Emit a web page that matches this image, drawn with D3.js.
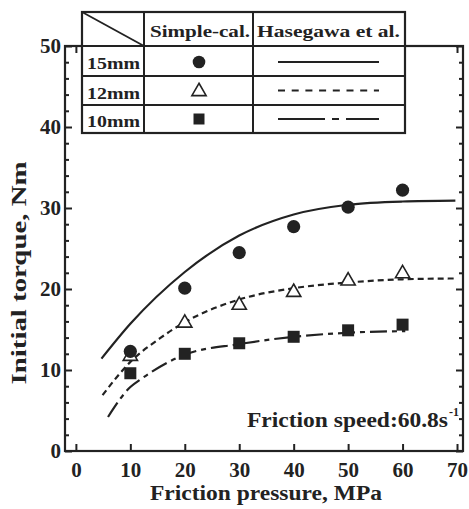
<!DOCTYPE html>
<html>
<head>
<meta charset="utf-8">
<script src="https://cdn.jsdelivr.net/npm/d3@7"></script>
<style>
  body { margin: 0; background: #fff; }
  text { font-family: "Liberation Serif", "Times New Roman", serif; font-weight: bold; fill: #222; }
</style>
</head>
<body>
<div id="chart"></div>
<script>
// measured points (Simple-cal.)
var pressure = [10, 20, 30, 40, 50, 60];
var simple15 = [12.3, 20.1, 24.5, 27.7, 30.1, 32.2];
var simple12 = [11.7, 15.8, 18.0, 19.6, 21.0, 21.9];
var simple10 = [9.6, 12.0, 13.3, 14.1, 14.9, 15.6];

// Hasegawa et al. curves
var hasX15 = [4.7, 10, 20, 30, 40, 50, 60, 69.7];
var hasY15 = [11.4, 15.7, 22.1, 26.6, 29.2, 30.4, 30.8, 30.9];
var hasX12 = [4.9, 10, 15.4, 20, 30, 40, 50, 60, 69.7];
var hasY12 = [6.9, 11.0, 13.9, 15.9, 18.7, 20.1, 20.8, 21.2, 21.3];
var hasX10 = [5.9, 10, 12, 20, 30, 40, 50, 60.5];
var hasY10 = [4.2, 7.9, 8.9, 11.9, 13.2, 14.1, 14.6, 14.8];

var xTicks = [0, 10, 20, 30, 40, 50, 60, 70];
var yTicks = [0, 10, 20, 30, 40, 50];
var rowLabels = ["15mm", "12mm", "10mm"];
var colLabels = ["Simple-cal.", "Hasegawa et al."];

var width = 469, height = 509;
var svg = d3.select("#chart").append("svg")
  .attr("width", width).attr("height", height);

var x = d3.scaleLinear().domain([-2, 71.1]).range([65, 463]);
var y = d3.scaleLinear().domain([0, 50]).range([451, 46]);

function minor(ax) { return ax.tickSizeInner(-4).tickSizeOuter(0).tickFormat(""); }

// minor y ticks every 2
var minorVals = d3.range(0, 51, 2).filter(function (v) { return v % 10 != 0; });
svg.append("g").attr("transform", "translate(65,0)")
  .call(minor(d3.axisLeft(y).tickValues(minorVals)));
svg.append("g").attr("transform", "translate(463,0)")
  .call(minor(d3.axisRight(y).tickValues(minorVals)));

var yAxisL = svg.append("g").attr("transform", "translate(65,0)")
  .call(d3.axisLeft(y).tickValues(yTicks).tickSizeInner(-7).tickSizeOuter(0).tickPadding(4));
svg.append("g").attr("transform", "translate(463,0)")
  .call(d3.axisRight(y).tickValues(yTicks).tickSizeInner(-7).tickSizeOuter(0).tickFormat(""));
var xAxisB = svg.append("g").attr("transform", "translate(0,451)")
  .call(d3.axisBottom(x).tickValues(xTicks).tickSizeInner(-7).tickSizeOuter(0).tickPadding(11));
svg.append("g").attr("transform", "translate(0,46)")
  .call(d3.axisTop(x).tickValues(xTicks).tickSizeInner(-7).tickSizeOuter(0).tickFormat(""));

svg.selectAll(".domain").remove();
svg.selectAll(".tick line").attr("stroke", "#222").attr("stroke-width", 2);
[yAxisL, xAxisB].forEach(function (g) {
  g.selectAll("text").attr("font-size", 21).attr("font-family", "Liberation Serif")
    .attr("font-weight", "bold").attr("fill", "#222");
});

// frame
svg.append("rect").attr("x", 65).attr("y", 46).attr("width", 398).attr("height", 405)
  .attr("fill", "none").attr("stroke", "#222").attr("stroke-width", 2.2);

// curves
var line = d3.line().x(function (d) { return x(d[0]); }).y(function (d) { return y(d[1]); })
  .curve(d3.curveMonotoneX);
var curves = [
  { xs: hasX15, ys: hasY15, dash: null },
  { xs: hasX12, ys: hasY12, dash: "6,4" },
  { xs: hasX10, ys: hasY10, dash: "17,5,5,5" }
];
curves.forEach(function (c) {
  var pts = c.xs.map(function (v, i) { return [v, c.ys[i]]; });
  svg.append("path").datum(pts).attr("d", line)
    .attr("fill", "none").attr("stroke", "#222").attr("stroke-width", 2.2)
    .attr("stroke-dasharray", c.dash);
});

// markers
var sq = d3.symbol().type(d3.symbolSquare).size(144);
var tri = d3.symbol().type(d3.symbolTriangle).size(88);
svg.selectAll(".sq").data(simple10).enter().append("path")
  .attr("d", sq).attr("fill", "#222")
  .attr("transform", function (d, i) { return "translate(" + x(pressure[i]) + "," + y(d) + ")"; });
svg.selectAll(".tri").data(simple12).enter().append("path")
  .attr("d", tri).attr("fill", "#fff").attr("stroke", "#222").attr("stroke-width", 1.6)
  .attr("transform", function (d, i) { return "translate(" + x(pressure[i]) + "," + y(d) + ")"; });
svg.selectAll(".circ").data(simple15).enter().append("circle")
  .attr("r", 6.6).attr("fill", "#222")
  .attr("cx", function (d, i) { return x(pressure[i]); })
  .attr("cy", function (d) { return y(d); });

// axis titles
svg.append("text").attr("x", 266).attr("y", 500).attr("text-anchor", "middle")
  .attr("font-size", 20).attr("textLength", 232).attr("lengthAdjust", "spacingAndGlyphs")
  .text("Friction pressure, MPa");
svg.append("text").attr("transform", "translate(26,273) rotate(-90)").attr("text-anchor", "middle")
  .attr("font-size", 20).attr("textLength", 223).attr("lengthAdjust", "spacingAndGlyphs")
  .text("Initial torque, Nm");
svg.append("text").attr("x", 247).attr("y", 427)
  .attr("font-size", 20).attr("textLength", 201).attr("lengthAdjust", "spacingAndGlyphs")
  .text("Friction speed:60.8s");
svg.append("text").attr("x", 449).attr("y", 416).attr("font-size", 12).text("-1");

// legend table
var colX = [82, 144, 253, 405];
var rowY = [12, 46, 76, 105, 133];
var leg = svg.append("g");
leg.append("rect").attr("x", colX[0]).attr("y", rowY[0])
  .attr("width", colX[3] - colX[0]).attr("height", rowY[4] - rowY[0])
  .attr("fill", "#fff").attr("stroke", "#222").attr("stroke-width", 2.2);
rowY.slice(1, 4).forEach(function (v) {
  leg.append("line").attr("x1", colX[0]).attr("x2", colX[3]).attr("y1", v).attr("y2", v)
    .attr("stroke", "#222").attr("stroke-width", 2);
});
colX.slice(1, 3).forEach(function (v) {
  leg.append("line").attr("x1", v).attr("x2", v).attr("y1", rowY[0]).attr("y2", rowY[4])
    .attr("stroke", "#222").attr("stroke-width", 2);
});
leg.append("line").attr("x1", colX[0]).attr("y1", rowY[0]).attr("x2", colX[1]).attr("y2", rowY[1])
  .attr("stroke", "#222").attr("stroke-width", 1.8);

var colText = [{ x: 150, w: 100 }, { x: 257, w: 143 }];
colLabels.forEach(function (t, i) {
  leg.append("text").attr("x", colText[i].x).attr("y", 37).attr("font-size", 17.5)
    .attr("textLength", colText[i].w).attr("lengthAdjust", "spacingAndGlyphs").text(t);
});
var rowBase = [69, 98.5, 127];
var rowMid = [62, 90.5, 119];
rowLabels.forEach(function (t, i) {
  leg.append("text").attr("x", 87).attr("y", rowBase[i]).attr("font-size", 17.5)
    .attr("textLength", 53).attr("lengthAdjust", "spacingAndGlyphs").text(t);
});
leg.append("circle").attr("cx", 199).attr("cy", rowMid[0]).attr("r", 6.3).attr("fill", "#222");
leg.append("path").attr("d", tri).attr("fill", "#fff").attr("stroke", "#222").attr("stroke-width", 1.6)
  .attr("transform", "translate(199," + (rowMid[1] + 1) + ")");
leg.append("path").attr("d", d3.symbol().type(d3.symbolSquare).size(121)).attr("fill", "#222")
  .attr("transform", "translate(199," + rowMid[2] + ")");
var legDash = [null, "7,6.7", "47,7,7,7"];
legDash.forEach(function (dsh, i) {
  leg.append("line").attr("x1", 278).attr("x2", 379).attr("y1", rowMid[i]).attr("y2", rowMid[i])
    .attr("stroke", "#222").attr("stroke-width", 2.2).attr("stroke-dasharray", dsh);
});
</script>
</body>
</html>
